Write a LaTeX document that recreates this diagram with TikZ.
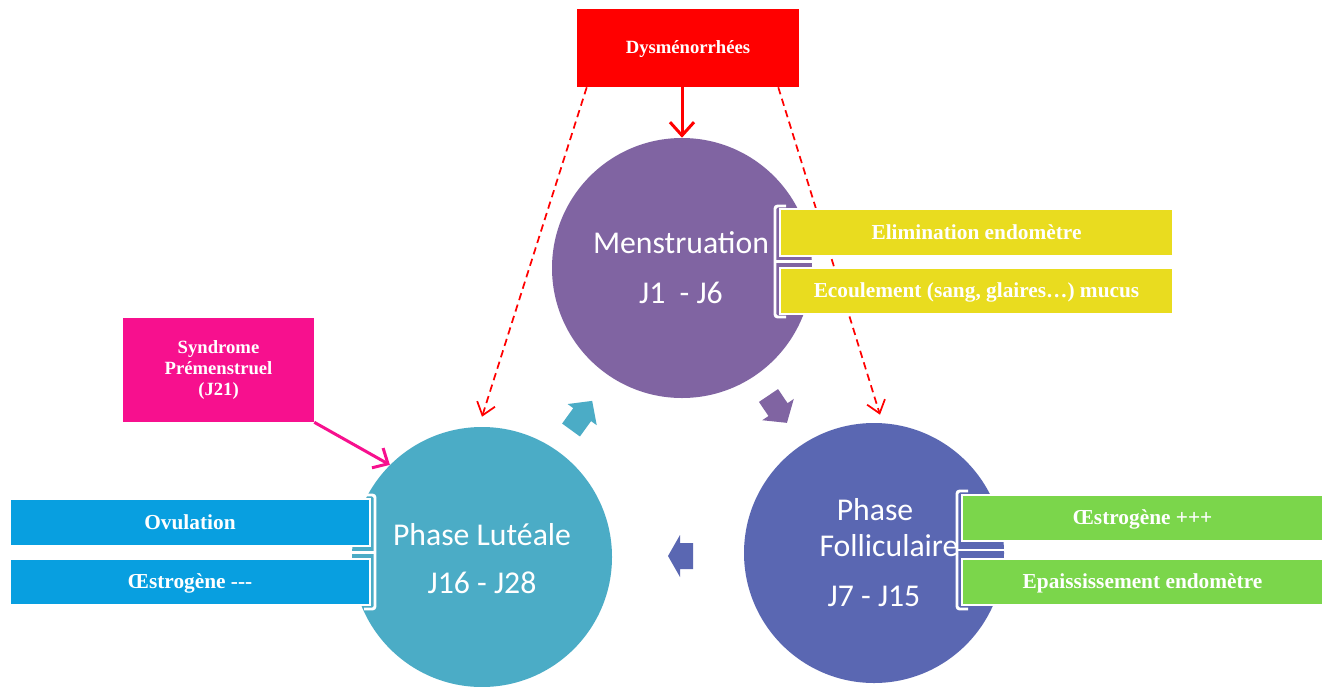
\documentclass[tikz,border=0pt]{standalone}
\usepackage{fontspec}
\setmainfont{Liberation Serif}
\newfontfamily\calibfont{Carlito}
\usetikzlibrary{arrows.meta,calc}
\definecolor{menscol}{RGB}{128,100,162}
\definecolor{lutcol}{RGB}{75,172,198}
\definecolor{folcol}{RGB}{90,103,178}
\definecolor{pinkcol}{RGB}{247,16,142}
\definecolor{yelcol}{RGB}{233,220,31}
\definecolor{grecol}{RGB}{123,214,75}
\definecolor{blucol}{RGB}{8,159,224}
\begin{document}
\begin{tikzpicture}[x=0.75pt,y=-0.75pt,
  phase/.style={circle,minimum size=195pt,inner sep=0pt},
  ctext/.style={text=white,font=\calibfont\fontsize{23.8}{28}\selectfont,anchor=base,inner sep=0pt},
  infobox/.style={draw=white,line width=0.8pt,inner sep=0pt,text=white,text depth=0.12em,
    font=\bfseries\fontsize{16}{19}\selectfont},
  bracket/.style={draw=white,line width=2.2pt,rounded corners=2pt},
  redarrow/.style={draw=red,line width=2.25pt,-{Straight Barb[length=10pt,width=18pt]}},
  dasharrow/.style={draw=red,line width=1.3pt,dash pattern=on 5.5pt off 3.5pt,
    -{Straight Barb[length=9pt,width=14pt]}},
  pinkarrow/.style={draw=pinkcol,line width=2.25pt,-{Straight Barb[length=9pt,width=17pt]}}
]
\useasboundingbox (0,0) rectangle (1327,686);
\fill[white] (0,0) rectangle (1327,686);

% circles
\node[phase,fill=menscol] (M) at (682,268) {};
\node[phase,fill=lutcol] (L) at (482,557) {};
\node[phase,fill=folcol] (F) at (874,553) {};

% cycle arrows
\fill[lutcol,shift={(571,430)},rotate=54]
  (0,-11) -- (19,-11) -- (19,-18) -- (36,0) -- (19,18) -- (19,11) -- (0,11) -- cycle;
\fill[menscol,shift={(768.5,395.5)},rotate=-56]
  (0,-11.5) -- (17,-11.5) -- (17,-19) -- (33,0) -- (17,19) -- (17,11.5) -- (0,11.5) -- cycle;
\fill[folcol,shift={(693,556)},rotate=180]
  (0,-13) -- (13,-13) -- (13,-21) -- (25,0) -- (13,21) -- (13,13) -- (0,13) -- cycle;

% circle texts
\node[ctext] (Mt1) at (681,253) {Menstruation};
\node[ctext] (Mt2) at (681,303) {J1\ \ - J6};
\node[ctext] (Lt1) at (482,545) {Phase Lutéale};
\node[ctext] (Lt2) at (482,593) {J16 - J28};
\node[ctext] (Ft1) at (875,520) {Phase};
\node[ctext] (Ft2) at (889,556) {Folliculaire};
\node[ctext] (Ft3) at (874,606) {J7 - J15};

% top red box
\node[fill=red,inner sep=0pt,minimum width=166.5pt,minimum height=58.5pt,text=white,text depth=0.15em,
  font=\bfseries\fontsize{14}{16}\selectfont] (D) at (688,48) {Dysménorrhées};
% pink box
\node[fill=pinkcol,inner sep=0pt,minimum width=143.25pt,minimum height=78pt,text=white,align=center,
  font=\bfseries\fontsize{14}{16}\selectfont] (P) at (218.5,370) {Syndrome\\Prémenstruel\\(J21)};

% dashed arrows (behind side boxes)
\draw[dasharrow] ([xshift=7.5pt]D.south west) -- ([yshift=7.5pt]L.north);
\draw[dasharrow] ([xshift=-15.75pt]D.south east) -- ([xshift=4.5pt,yshift=6pt]F.north);
\draw[redarrow] (D.south -| M.north) -- (M.north);
\draw[pinkarrow] (P.south east) -- (L.135);

% yellow boxes
\draw[bracket] (786,206) -- (775,206) -- (775,317) -- (786,317);
\draw[bracket] (775,261.5) -- (812,261.5);
\node[infobox,fill=yelcol,minimum width=294.75pt,minimum height=35.25pt] (Y1) at (976.5,232.5) {Elimination endomètre};
\node[infobox,fill=yelcol,minimum width=294.75pt,minimum height=34.5pt] (Y2) at (976.5,291) {Ecoulement (sang, glaires…) mucus};

% green boxes
\draw[bracket] (968,491) -- (957,491) -- (957,609) -- (968,609);
\draw[bracket] (957,550) -- (1005,550);
\node[infobox,fill=grecol,minimum width=270.75pt,minimum height=34.5pt] (G1) at (1142.5,518) {Œstrogène +++};
\node[infobox,fill=grecol,minimum width=270.75pt,minimum height=34.5pt] (G2) at (1142.5,582) {Epaississement endomètre};

% blue boxes
\draw[bracket] (364,495) -- (375,495) -- (375,609) -- (364,609);
\draw[bracket] (375,552.5) -- (352,552.5);
\node[infobox,fill=blucol,minimum width=270pt,minimum height=35.25pt] (B1) at (190,522.5) {Ovulation};
\node[infobox,fill=blucol,minimum width=270pt,minimum height=34.5pt] (B2) at (190,582) {Œstrogène -{}-{}-};
\end{tikzpicture}
\end{document}
